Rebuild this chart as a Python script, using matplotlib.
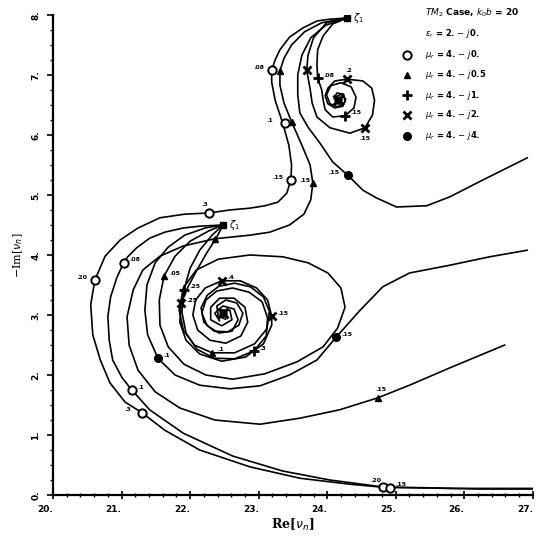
import matplotlib
matplotlib.use("Agg")
import matplotlib.pyplot as plt

# ---- loci (Re, -Im) ----
# mu_r = 4 - j0, branch starting at upper zeta_1
up0_x = [24.29, 24.04, 23.85, 23.64, 23.45, 23.31, 23.24, 23.19, 23.19, 23.24, 23.35, 23.44, 23.48, 23.47,
         23.41, 23.28, 23.09, 22.87, 22.58, 22.27, 21.92, 21.56, 21.24, 20.98, 20.76, 20.61, 20.55, 20.58,
         20.69, 20.83, 21.05, 21.30, 21.63, 22.14, 22.87, 23.60, 24.33, 24.81, 25.50, 26.22, 27.00]
up0_y = [7.95, 7.93, 7.90, 7.78, 7.63, 7.42, 7.25, 7.08, 6.88, 6.58, 6.20, 5.83, 5.50, 5.25,
         5.03, 4.88, 4.82, 4.78, 4.75, 4.70, 4.68, 4.62, 4.45, 4.25, 3.98, 3.58, 3.17, 2.67,
         2.25, 1.87, 1.55, 1.37, 1.08, 0.75, 0.47, 0.28, 0.18, 0.13, 0.12, 0.10, 0.10]
# mu_r = 4 - j0.5, upper branch
up05_x = [24.29, 23.92, 23.67, 23.48, 23.37, 23.31, 23.31, 23.37, 23.48, 23.63, 23.75, 23.79, 23.76, 23.66,
          23.45, 23.16, 22.87, 22.36, 21.90, 21.56, 21.31, 21.17, 21.08, 21.11, 21.24, 21.49, 21.85, 22.36,
          23.02, 23.60, 24.18, 24.74, 25.20, 25.79, 26.59]
up05_y = [7.95, 7.87, 7.72, 7.50, 7.28, 7.07, 6.83, 6.53, 6.22, 5.83, 5.50, 5.20, 4.92, 4.68,
          4.50, 4.38, 4.33, 4.27, 4.15, 3.98, 3.75, 3.42, 2.97, 2.50, 2.08, 1.72, 1.45, 1.25,
          1.18, 1.28, 1.42, 1.62, 1.83, 2.12, 2.50]
# mu_r = 4 - j1, upper spiral
up1_x = [24.29, 24.08, 23.94, 23.86, 23.85, 23.86, 23.92, 23.94, 23.97, 24.08, 24.26, 24.39, 24.42, 24.35,
         24.20, 24.05, 23.99, 24.04, 24.15, 24.26, 24.24, 24.14, 24.10]
up1_y = [7.95, 7.85, 7.65, 7.42, 7.17, 6.95, 6.75, 6.58, 6.42, 6.30, 6.32, 6.45, 6.63, 6.80,
         6.87, 6.82, 6.67, 6.52, 6.47, 6.55, 6.68, 6.70, 6.60]
# mu_r = 4 - j2, upper spiral
up2_x = [24.29, 23.99, 23.80, 23.72, 23.70, 23.75, 23.78, 23.85, 24.04, 24.33, 24.55, 24.66, 24.69, 24.65,
         24.52, 24.29, 24.11, 24.01, 23.97, 24.01, 24.11, 24.23, 24.27, 24.20, 24.12, 24.15]
up2_y = [7.95, 7.87, 7.62, 7.33, 7.08, 6.77, 6.53, 6.30, 6.12, 6.03, 6.12, 6.33, 6.58, 6.78,
         6.90, 6.93, 6.90, 6.78, 6.65, 6.52, 6.45, 6.48, 6.60, 6.68, 6.63, 6.57]
# mu_r = 4 - j4, upper branch
up4_x = [24.29, 23.98, 23.76, 23.63, 23.57, 23.57, 23.60, 23.72, 23.89, 24.08, 24.30, 24.52, 24.72, 25.01,
         25.45, 25.79, 26.27, 26.92]
up4_y = [7.95, 7.83, 7.62, 7.33, 7.00, 6.67, 6.37, 6.13, 5.87, 5.55, 5.33, 5.08, 4.95, 4.80,
         4.82, 4.97, 5.25, 5.62]

# branches starting at lower zeta_1
lo0_x = [22.48, 22.14, 21.90, 21.63, 21.41, 21.22, 21.09, 21.03, 20.93, 20.84, 20.80, 20.82, 20.87, 21.01,
         21.15, 21.41, 21.90, 22.62, 23.35, 24.04, 24.84, 25.79, 27.00]
lo0_y = [4.50, 4.48, 4.45, 4.38, 4.28, 4.12, 3.97, 3.87, 3.62, 3.30, 2.97, 2.58, 2.25, 1.95,
         1.75, 1.42, 1.03, 0.65, 0.40, 0.25, 0.13, 0.11, 0.11]
lo05_x = [22.48, 22.27, 22.00, 21.78, 21.62, 21.55, 21.56, 21.68, 21.91, 22.23, 22.62, 23.09, 23.56, 23.94,
          24.15, 24.26, 24.20, 24.01, 23.72, 23.35, 22.87, 22.41, 22.09, 21.90, 21.84, 21.90, 22.06, 22.32,
          22.65, 22.94, 23.12, 23.16, 23.07, 22.88, 22.65, 22.42, 22.25, 22.16, 22.20, 22.35, 22.55, 22.71,
          22.77, 22.68, 22.52, 22.39, 22.41, 22.52]
lo05_y = [4.50, 4.40, 4.23, 3.98, 3.65, 3.25, 2.83, 2.47, 2.18, 2.00, 1.93, 2.02, 2.22, 2.47,
          2.78, 3.13, 3.45, 3.70, 3.87, 3.97, 4.00, 3.93, 3.75, 3.45, 3.08, 2.75, 2.50, 2.37,
          2.37, 2.52, 2.77, 3.05, 3.30, 3.47, 3.53, 3.48, 3.33, 3.12, 2.88, 2.73, 2.72, 2.83,
          3.03, 3.20, 3.25, 3.15, 2.98, 2.93]
lo1_x = [22.48, 22.32, 22.14, 22.00, 21.91, 21.88, 21.94, 22.10, 22.35, 22.65, 22.93, 23.11, 23.13, 23.05,
         22.86, 22.62, 22.39, 22.23, 22.17, 22.25, 22.42, 22.61, 22.70, 22.64, 22.48, 22.36, 22.43]
lo1_y = [4.50, 4.33, 4.08, 3.78, 3.42, 3.05, 2.70, 2.43, 2.28, 2.27, 2.40, 2.65, 2.95, 3.22,
         3.38, 3.45, 3.40, 3.25, 3.03, 2.82, 2.70, 2.73, 2.92, 3.10, 3.15, 3.03, 2.90]
lo2_x = [22.48, 22.38, 22.24, 22.10, 21.97, 21.87, 21.85, 21.94, 22.14, 22.46, 22.81, 23.07, 23.19, 23.19,
         23.13, 22.97, 22.73, 22.46, 22.22, 22.08, 22.04, 22.11, 22.29, 22.52, 22.74, 22.84, 22.80, 22.64,
         22.43, 22.30, 22.30, 22.46, 22.61, 22.58, 22.46]
lo2_y = [4.50, 4.28, 4.03, 3.75, 3.47, 3.20, 2.88, 2.58, 2.35, 2.23, 2.30, 2.52, 2.83, 2.98,
         3.25, 3.45, 3.57, 3.57, 3.45, 3.25, 3.00, 2.75, 2.58, 2.53, 2.65, 2.88, 3.13, 3.28,
         3.28, 3.13, 2.92, 2.82, 2.92, 3.08, 3.08]
lo4_x = [22.48, 22.22, 21.92, 21.68, 21.49, 21.37, 21.34, 21.38, 21.53, 21.78, 22.14, 22.58, 23.02, 23.45,
         23.85, 24.13, 24.48, 24.81, 25.20, 25.79, 26.37, 26.92]
lo4_y = [4.50, 4.45, 4.33, 4.13, 3.87, 3.50, 3.08, 2.67, 2.28, 2.00, 1.83, 1.77, 1.82, 2.00,
         2.25, 2.63, 3.08, 3.47, 3.70, 3.83, 3.97, 4.08]

# marked points on the loci and their tags
circ_x = [23.19, 23.38, 23.47, 22.27, 20.61, 21.30, 24.81, 21.03, 21.15, 24.91]
circ_y = [7.08, 6.20, 5.25, 4.70, 3.58, 1.37, 0.13, 3.87, 1.75, 0.12]
circ_tag = [".08", ".1", ".15", ".3", ".20", ".3", ".20", ".08", ".1", ".15"]
tri_x = [23.31, 23.48, 23.79, 22.36, 24.74, 21.62, 22.32]
tri_y = [7.07, 6.22, 5.20, 4.27, 1.62, 3.65, 2.37]
tri_tag = ["", "", ".15", "", ".15", ".05", ".1"]
plus_x = [23.86, 24.26, 21.91, 22.93]
plus_y = [6.95, 6.32, 3.42, 2.40]
plus_tag = [".08", ".15", ".25", ".3"]
cross_x = [24.55, 24.29, 23.70, 23.19, 21.87, 22.46]
cross_y = [6.12, 6.93, 7.08, 2.98, 3.20, 3.57]
cross_tag = [".15", ".2", "", ".15", ".25", ".4"]
dot_x = [24.30, 24.13, 21.53]
dot_y = [5.33, 2.63, 2.28]
dot_tag = [".15", ".15", ".1"]
centre_x = [24.15, 22.48]
centre_y = [6.58, 3.03]
zeta_x = [24.29, 22.48]
zeta_y = [7.95, 4.50]

legend_labels = [r"$\mu_r$ = 4. $-$ $j$0.", r"$\mu_r$ = 4. $-$ $j$0.5", r"$\mu_r$ = 4. $-$ $j$1.",
                 r"$\mu_r$ = 4. $-$ $j$2.", r"$\mu_r$ = 4. $-$ $j$4."]

# tag placement (points), one per marked point
R, L, U = (4, 1), (-13, 1), (-5, 5)
circ_off = [L, L, L, U, L, L, (-9, 4), R, R, (4, 1)]
tri_off = [R, R, (-10, 1), R, (-2, 5), R, R]
plus_off = [R, R, R, R]
cross_off = [(-4, -9), (-1, 5), R, R, R, R]
dot_off = [(-14, 1), R, R]

fig = plt.figure(figsize=(5.41, 5.40), dpi=100)
ax = fig.add_axes([0.098, 0.0833, 0.887, 0.889])

curves = [(up0_x, up0_y), (up05_x, up05_y), (up1_x, up1_y), (up2_x, up2_y), (up4_x, up4_y),
          (lo0_x, lo0_y), (lo05_x, lo05_y), (lo1_x, lo1_y), (lo2_x, lo2_y), (lo4_x, lo4_y)]
for cx, cy in curves:
    ax.plot(cx, cy, color="black", lw=1.2, solid_joinstyle="round", solid_capstyle="round")

styles = [
    (circ_x, circ_y, circ_tag, circ_off, dict(marker="o", ms=6, mfc="white", mec="black", mew=1.4)),
    (tri_x, tri_y, tri_tag, tri_off, dict(marker="^", ms=5, mfc="black", mec="black")),
    (plus_x, plus_y, plus_tag, plus_off, dict(marker="+", ms=6.5, mec="black", mew=2.0)),
    (cross_x, cross_y, cross_tag, cross_off, dict(marker="x", ms=6, mec="black", mew=2.0)),
    (dot_x, dot_y, dot_tag, dot_off, dict(marker="o", ms=5.5, mfc="black", mec="black")),
]
for xs, ys, tags, offs, st in styles:
    ax.plot(xs, ys, ls="none", zorder=3, **st)
    for px, py, tag, off in zip(xs, ys, tags, offs):
        if tag:
            ax.annotate(tag, (px, py), xytext=off, textcoords="offset points",
                        fontsize=4.5, fontweight="bold")

ax.plot(centre_x, centre_y, ls="none", marker="x", ms=7, mew=2.2, color="black", zorder=3)
ax.plot(centre_x, centre_y, ls="none", marker="o", ms=5, color="black", zorder=3)
ax.plot(zeta_x, zeta_y, ls="none", marker="s", ms=4.5, color="black", zorder=3)
for zx, zy in zip(zeta_x, zeta_y):
    ax.annotate(r"$\zeta_1$", (zx, zy), xytext=(4, -2), textcoords="offset points", fontsize=7)

# legend block, top right
ax.text(0.775, 1.005, r"$\mathit{TM}_2$ Case, $k_0b$ = 20", transform=ax.transAxes,
        fontsize=6.5, fontweight="bold", va="center", clip_on=False)
ax.text(0.775, 0.962, r"$\epsilon_r$ = 2. $-$ $j$0.", transform=ax.transAxes,
        fontsize=6, fontweight="bold", va="center")
legend_y = [0.917, 0.875, 0.833, 0.792, 0.748]
for (_, _, _, _, st), lab, ly in zip(styles, legend_labels, legend_y):
    ax.plot([0.737], [ly], transform=ax.transAxes, ls="none", clip_on=False, **st)
    ax.text(0.775, ly, lab, transform=ax.transAxes, fontsize=6, fontweight="bold", va="center")

ax.set_xlim(20, 27)
ax.set_ylim(0, 8)
ax.set_xticks(range(20, 28))
ax.set_xticklabels([f"{v}." for v in range(20, 28)], fontsize=6.5, fontweight="bold", ha="right")
ax.set_yticks(range(0, 9))
ax.set_yticklabels([f"{v}." for v in range(0, 9)], fontsize=6.5, fontweight="bold", rotation=90,
                   va="center")
ax.set_xticks([20 + i * 0.2 for i in range(36)], minor=True)
ax.set_yticks([i * 0.25 for i in range(33)], minor=True)
ax.tick_params(axis="x", which="major", direction="inout", length=6, width=1.2, pad=4)
ax.tick_params(axis="x", which="minor", direction="inout", length=3, width=1)
ax.tick_params(axis="y", which="major", direction="out", length=4, width=1.2, pad=5)
ax.tick_params(axis="y", which="minor", direction="out", length=2.5, width=1)
for s in ("top", "right"):
    ax.spines[s].set_visible(False)
for s in ("left", "bottom"):
    ax.spines[s].set_linewidth(1.6)

ax.set_xlabel(r"Re[$\nu_n$]", fontsize=9, fontweight="bold", family="serif", labelpad=2)
ax.set_ylabel(r"$-$Im[$\nu_n$]", fontsize=8, family="serif", labelpad=5)

fig.savefig("out.png", dpi=100)
